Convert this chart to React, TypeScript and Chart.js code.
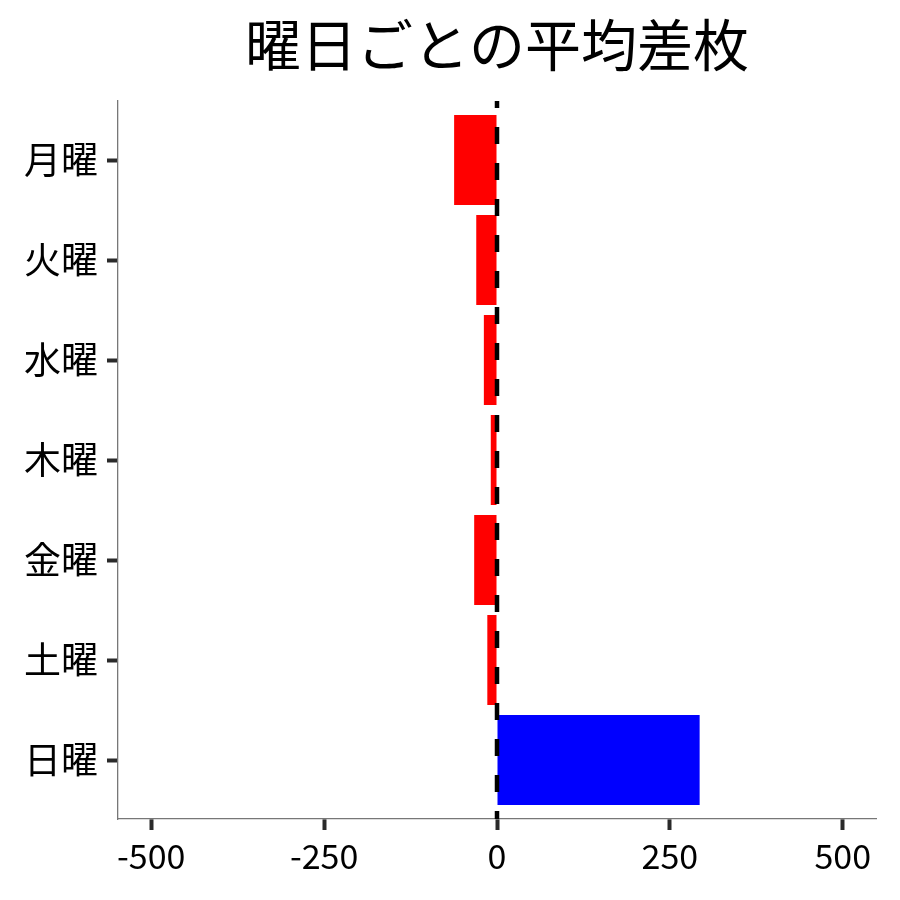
import { useEffect, useRef } from 'react';
import { Chart, registerables } from 'chart.js';

Chart.register(...registerables);

const titleText = '曜日ごとの平均差枚';
const days = ['月曜', '火曜', '水曜', '木曜', '金曜', '土曜', '日曜'];
const avgDiff = [-62, -30, -19, -9, -33, -14, 293];
const xTicks = [-500, -250, 0, 250, 500];

const FONT = "'Noto Sans CJK JP', 'Noto Sans', sans-serif";

// title centred on the plot area, like the original figure
const titlePlugin = {
    id: 'areaTitle',
    afterDraw(chart: any) {
        const { ctx, chartArea } = chart;
        ctx.save();
        ctx.fillStyle = '#000';
        ctx.font = `56px ${FONT}`;
        ctx.textAlign = 'center';
        ctx.textBaseline = 'middle';
        ctx.fillText(titleText, (chartArea.left + chartArea.right) / 2, 45);
        ctx.restore();
    },
};

// dashed zero line
const zeroLinePlugin = {
    id: 'zeroLine',
    afterDatasetsDraw(chart: any) {
        const { ctx, chartArea, scales } = chart;
        const x = scales.x.getPixelForValue(0);
        ctx.save();
        ctx.strokeStyle = '#000';
        ctx.lineWidth = 4.5;
        ctx.setLineDash([17, 19]);
        ctx.lineDashOffset = 10;
        ctx.beginPath();
        ctx.moveTo(x, chartArea.top);
        ctx.lineTo(x, chartArea.bottom);
        ctx.stroke();
        ctx.restore();
    },
};

const App = () => {
    const canvasRef = useRef<HTMLCanvasElement>(null);

    useEffect(() => {
        if (!canvasRef.current) return;
        const chart = new Chart(canvasRef.current, {
            type: 'bar',
            data: {
                datasets: [
                    {
                        data: avgDiff.map((v, i) => ({ x: v, y: i })),
                        backgroundColor: avgDiff.map((v) => (v < 0 ? '#ff0000' : '#0000ff')),
                        borderWidth: 0,
                        barPercentage: 0.9,
                        categoryPercentage: 1,
                    },
                ],
            },
            options: {
                indexAxis: 'y',
                animation: false,
                responsive: true,
                maintainAspectRatio: false,
                layout: { padding: { top: 101, right: 24, left: 0, bottom: 0 } },
                plugins: {
                    legend: { display: false },
                    tooltip: { enabled: false },
                    title: { display: false },
                },
                scales: {
                    x: {
                        type: 'linear',
                        min: -548,
                        max: 548,
                        afterBuildTicks: (scale: any) => {
                            scale.ticks = xTicks.map((v) => ({ value: v }));
                        },
                        afterFit: (scale: any) => {
                            scale.height = 81;
                        },
                        border: { display: true, color: '#777', width: 1.3 },
                        grid: {
                            drawOnChartArea: false,
                            drawTicks: true,
                            tickLength: 11,
                            tickWidth: 4,
                            tickColor: '#2a2a2a',
                        },
                        ticks: {
                            color: '#000',
                            padding: 6,
                            font: { family: FONT, size: 34 },
                            maxRotation: 0,
                            autoSkip: false,
                        },
                    },
                    y: {
                        type: 'linear',
                        reverse: true,
                        min: -0.59,
                        max: 6.59,
                        offset: false,
                        afterBuildTicks: (scale: any) => {
                            scale.ticks = days.map((_, i) => ({ value: i }));
                        },
                        afterFit: (scale: any) => {
                            scale.width = 118;
                        },
                        border: { display: true, color: '#777', width: 1.3 },
                        grid: {
                            offset: false,
                            drawOnChartArea: false,
                            drawTicks: true,
                            tickLength: 11,
                            tickWidth: 4,
                            tickColor: '#2a2a2a',
                        },
                        ticks: {
                            color: '#000',
                            padding: 9,
                            font: { family: FONT, size: 37 },
                            autoSkip: false,
                            callback: (v: any) => days[v] ?? '',
                        },
                    },
                },
            },
            plugins: [titlePlugin, zeroLinePlugin],
        });
        return () => {
            chart.destroy();
        };
    }, []);

    return (
        <div style={{ position: 'absolute', left: 0, top: 0, width: '900px', height: '900px', background: '#fff' }}>
            <canvas ref={canvasRef}></canvas>
        </div>
    );
};

export default App;
